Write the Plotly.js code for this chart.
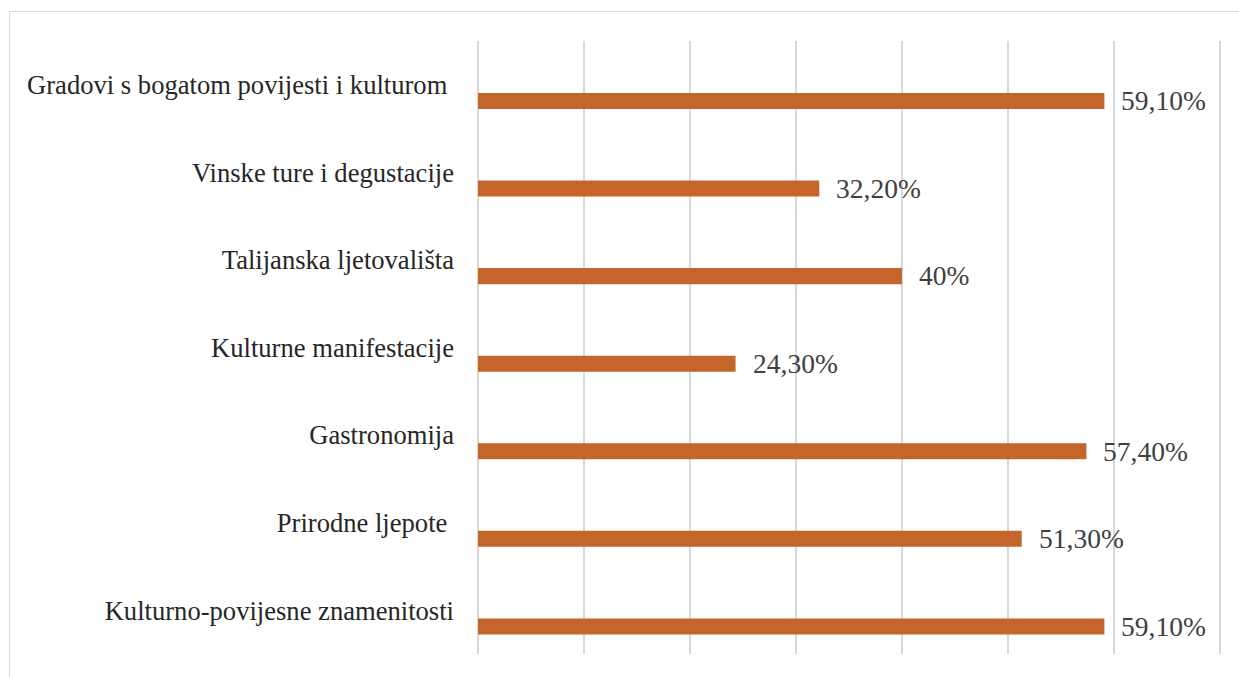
<!DOCTYPE html>
<html>
<head>
<meta charset="utf-8">
<script src="https://cdn.plot.ly/plotly-3.0.1.min.js"></script>
<style>
  html, body { margin: 0; padding: 0; background: #ffffff; }
  #frame { position: absolute; left: 9px; top: 11px; width: 1240px; height: 680px; border: 1px solid #d9d9d9; box-sizing: border-box; }
  #chart { position: absolute; left: 0; top: 0; width: 1239px; height: 677px; }
</style>
</head>
<body>
<div id="frame"></div>
<div id="chart"></div>
<script>
// Categories listed bottom to top
const categories = [
  "Kulturno-povijesne znamenitosti",
  "Prirodne ljepote\u00a0",
  "Gastronomija",
  "Kulturne manifestacije",
  "Talijanska ljetovališta",
  "Vinske ture i degustacije",
  "Gradovi s bogatom povijesti i kulturom\u00a0"
];
const values = [59.1, 51.3, 57.4, 24.3, 40, 32.2, 59.1];
const valueLabels = ["59,10%", "51,30%", "57,40%", "24,30%", "40%", "32,20%", "59,10%"];
const xTicks = [0, 10, 20, 30, 40, 50, 60, 70];

const serif = '"Liberation Serif", "Times New Roman", Times, serif';
const barOffset = -0.2765;
const barWidth = 0.183;

const trace = {
  type: 'bar',
  orientation: 'h',
  x: values,
  y: categories,
  marker: { color: '#C4662B' },
  offset: barOffset,
  width: barWidth,
  hoverinfo: 'none'
};

const annotations = values.map((v, i) => ({
  x: v,
  y: categories[i],
  xref: 'x',
  yref: 'y',
  text: valueLabels[i],
  showarrow: false,
  xanchor: 'left',
  yanchor: 'middle',
  xshift: 15,
  yshift: -16,
  font: { family: serif, size: 27.5, color: '#404040' }
}));

const layout = {
  width: 1239,
  height: 677,
  margin: { l: 477.5, r: 17.5, t: 41, b: 23, pad: 0 },
  paper_bgcolor: 'rgba(0,0,0,0)',
  plot_bgcolor: 'rgba(0,0,0,0)',
  showlegend: false,
  font: { family: serif },
  xaxis: {
    range: [0, 70.1],
    tickvals: xTicks,
    showticklabels: false,
    showgrid: true,
    gridcolor: '#d9d9d9',
    gridwidth: 1.5,
    zeroline: true,
    zerolinecolor: '#d9d9d9',
    zerolinewidth: 1.5,
    showline: false,
    fixedrange: true
  },
  yaxis: {
    type: 'category',
    categoryorder: 'array',
    categoryarray: categories,
    range: [-0.5, 6.5],
    showgrid: false,
    zeroline: false,
    showline: false,
    ticks: '',
    ticklabelstandoff: 23,
    tickfont: { family: serif, size: 26.6, color: '#262626' },
    fixedrange: true
  },
  annotations: annotations
};

Plotly.newPlot('chart', [trace], layout, { displayModeBar: false, staticPlot: true });
</script>
</body>
</html>
